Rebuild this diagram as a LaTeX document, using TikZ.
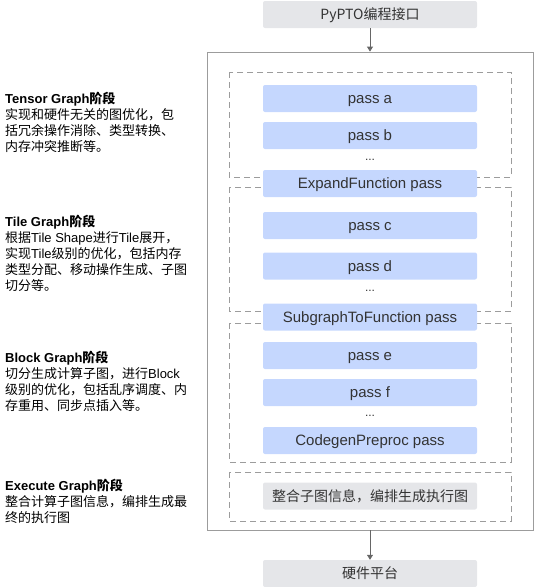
\documentclass[tikz,border=0pt]{standalone}
\usepackage{fontspec}
\setmainfont{Noto Sans CJK SC}
\newfontfamily\latinfont{Liberation Sans}
\usetikzlibrary{arrows.meta, positioning}
\definecolor{passblue}{HTML}{C5D7FE}
\definecolor{boxgray}{HTML}{E5E6E9}
\definecolor{linegray}{HTML}{9C9C9C}
\definecolor{textgray}{HTML}{333333}
\newcommand{\en}[1]{{\latinfont #1}}

\begin{document}
\begin{tikzpicture}[x=1pt, y=-1pt,
    passbox/.style={rectangle, rounded corners=2pt, fill=passblue, inner sep=0pt,
                    minimum width=214pt, minimum height=27pt, text=textgray,
                    text height=13pt, text depth=3pt,
                    font=\fontsize{15}{16}\selectfont\latinfont},
    graybox/.style={passbox, fill=boxgray, font=\fontsize{14}{16}\selectfont},
    stagebox/.style={draw=linegray, line width=0.8pt, dash pattern=on 6pt off 4pt},
    frame/.style={draw=linegray, line width=0.8pt, minimum width=326pt,
                  minimum height=478pt, inner sep=0pt},
    note/.style={anchor=north west, align=left, inner sep=0pt,
                 font=\fontsize{13}{16}\selectfont},
    dots/.style={anchor=base, inner sep=0pt, text=textgray,
                 font=\fontsize{12}{12}\selectfont\latinfont},
    flow/.style={draw=gray!80!black, line width=0.8pt,
                 -{Triangle[length=5pt, width=6pt]}}
  ]
  \useasboundingbox (0,0) rectangle (535,587);

  % outer frame and stages
  \node[frame] (frame) at (370,291) {};
  \draw[stagebox] (229,72) rectangle (511,177);
  \draw[stagebox] (229,187) rectangle (511,311);
  \draw[stagebox] (229,323) rectangle (511,462);
  \draw[stagebox] (229,472) rectangle (511,521);

  % passes
  \node[graybox] (api) at (370,14.5) {PyPTO编程接口};
  \node[passbox] (passA) at (370,98.5) {pass a};
  \node[passbox] (passB) at (370,135.5) {pass b};
  \node[passbox] (expand) at (370,183.5) {ExpandFunction pass};
  \node[passbox] (passC) at (370,225.5) {pass c};
  \node[passbox] (passD) at (370,266) {pass d};
  \node[passbox] (subgraph) at (370,317) {SubgraphToFunction pass};
  \node[passbox] (passE) at (370,355.5) {pass e};
  \node[passbox] (passF) at (370,392.5) {pass f};
  \node[passbox] (codegen) at (370,440.5) {CodegenPreproc pass};
  \node[graybox] (merge) at (370,496) {整合子图信息，编排生成执行图};
  \node[graybox] (hw) at (370,573.5) {硬件平台};
  \foreach \y/\n in {160/dotsA, 291/dotsB, 416/dotsC}
    \node[dots] (\n) at (370,\y) {...};

  \draw[flow] (api) -- (frame);
  \draw[flow] (frame) -- (hw);

  % stage notes
  \node[note] (tensor) at (5,91.5) {{\bfseries\en{Tensor Graph}阶段}\\
    实现和硬件无关的图优化，包\\括冗余操作消除、类型转换、\\内存冲突推断等。};
  \node[note] (tile) at (5,214.5) {{\bfseries\en{Tile Graph}阶段}\\
    根据\en{Tile Shape}进行\en{Tile}展开，\\实现\en{Tile}级别的优化，包括内存\\
    类型分配、移动操作生成、子图\\切分等。};
  \node[note] (block) at (5,350.5) {{\bfseries\en{Block Graph}阶段}\\
    切分生成计算子图，进行\en{Block}\\级别的优化，包括乱序调度、内\\
    存重用、同步点插入等。};
  \node[note] (exec) at (5,478.5) {{\bfseries\en{Execute Graph}阶段}\\
    整合计算子图信息，编排生成最\\终的执行图};
\end{tikzpicture}
\end{document}
